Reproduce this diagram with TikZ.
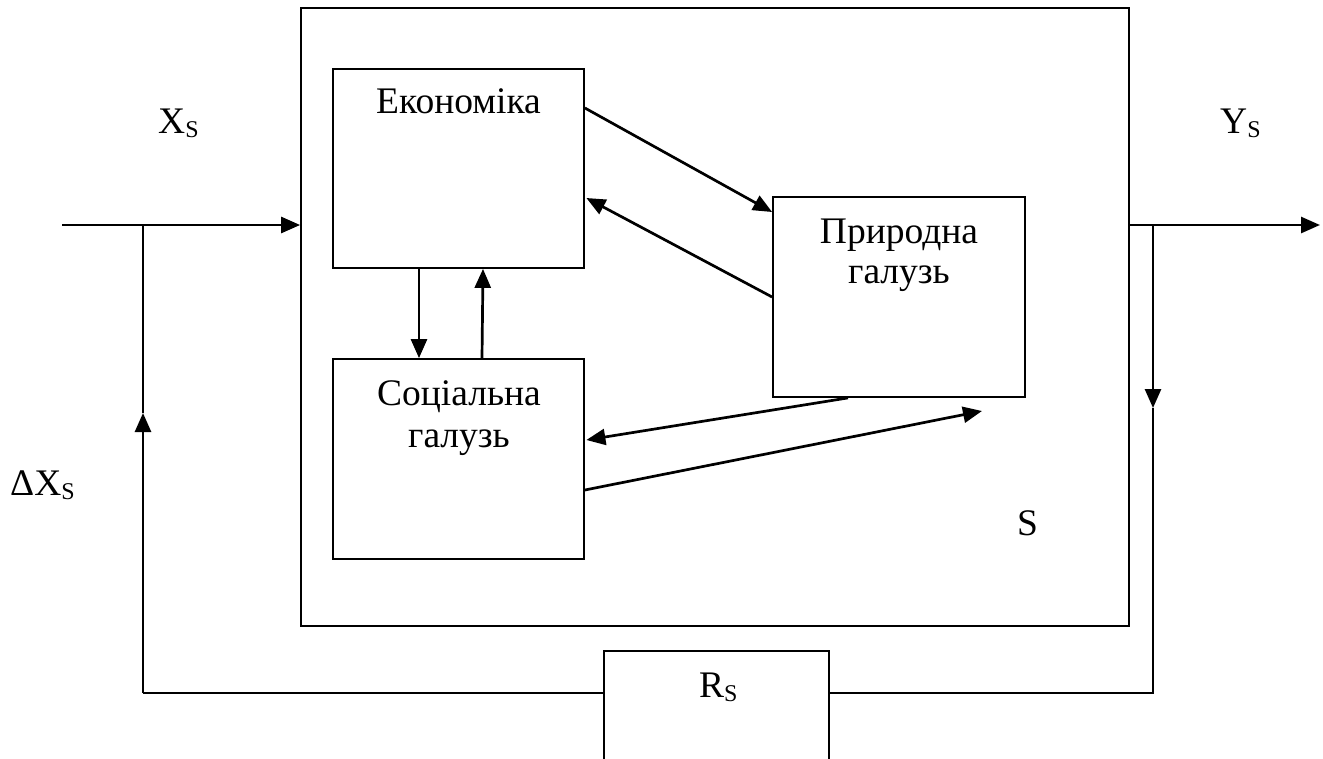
\documentclass[tikz,border=0pt]{standalone}
\usepackage{fontspec}
\setmainfont{Liberation Serif}
\usetikzlibrary{arrows.meta,calc}
\newcommand{\lowS}{\raisebox{-4pt}{\fontsize{24}{24}\selectfont S}}
\begin{document}
\begin{tikzpicture}[x=1pt,y=-1pt,
  box/.style={draw,line width=1.8pt,inner sep=0pt},
  lbl/.style={anchor=base,inner sep=0pt,font=\fontsize{37.5}{40}\selectfont},
  lblw/.style={anchor=base west,inner sep=0pt,font=\fontsize{37.5}{40}\selectfont},
  ln/.style={line width=1.8pt},
  arr/.style={line width=2.7pt,-{Triangle[length=19pt,width=16pt]}}]
\useasboundingbox (0,0) rectangle (1323,758);

% system block and its three sectors
\node[box,minimum width=828pt,minimum height=618pt] (S) at (715,317) {};
\node[box,minimum width=251pt,minimum height=199pt] (econ) at (458.5,168.5) {};
\node[box,minimum width=251pt,minimum height=200pt] (soc) at (458.5,459) {};
\node[box,minimum width=252pt,minimum height=200pt] (prir) at (899,297) {};
\node[box,minimum width=225pt,minimum height=150pt] (R) at (716.5,726) {};

% texts
\node[lbl] (econT) at (458.5,113) {Економіка};
\node[lbl] (prirT1) at (899,243) {Природна};
\node[lbl] (prirT2) at (899,283) {галузь};
\node[lbl] (socT1) at (459,405) {Соціальна};
\node[lbl] (socT2) at (459,447) {галузь};
\node[lblw] (xs) at (158,133) {X\lowS};
\node[lblw] (ys) at (1220,133) {Y\lowS};
\node[lblw] (dxs) at (10,495) {ΔX\lowS};
\node[lblw] (sT) at (1017,535) {S};
\node[lblw] (rs) at (699,697) {R\lowS};

% links between the sectors
\draw[arr] ($(econ.east)+(0,-60.5)$) -- ($(prir.west)+(0,-85)$);
\draw[arr] (prir.west) -- ($(econ.east)+(1.5,29.5)$);
\draw[arr] ($(econ.south)+(-39.5,0)$) -- ($(soc.north)+(-39.5,0)$);
\draw[arr] ($(soc.north)+(23.5,0)$) -- ($(econ.south)+(24.5,0)$);
\draw[arr] ($(prir.south)+(-51,0)$) -- ($(soc.east)+(1.5,-19)$);
\coordinate (tipS) at (982,411);
\draw[arr] ($(soc.east)+(0,31)$) -- (tipS);

% input, output and feedback loop
\coordinate (inA) at (62,225);
\coordinate (brL) at (143,225);
\coordinate (fbL) at (143,693);
\coordinate (fbLmid) at (143,413);
\coordinate (brR) at (1153,225);
\coordinate (fbR) at (1153,693);
\coordinate (fbRmid) at (1153,408);
\coordinate (outA) at (1320,225);

\draw[arr] (inA) -- (S.west |- inA);
\draw[arr] (S.east |- outA) -- (outA);
\draw[ln] (brL) -- (fbLmid);
\draw[arr] (fbL) -- (fbLmid);
\draw[ln] (R.west |- fbL) -- (fbL);
\draw[ln] (R.east |- fbR) -- (fbR) -- (fbRmid);
\draw[arr] (brR) -- (fbRmid);
\end{tikzpicture}
\end{document}
